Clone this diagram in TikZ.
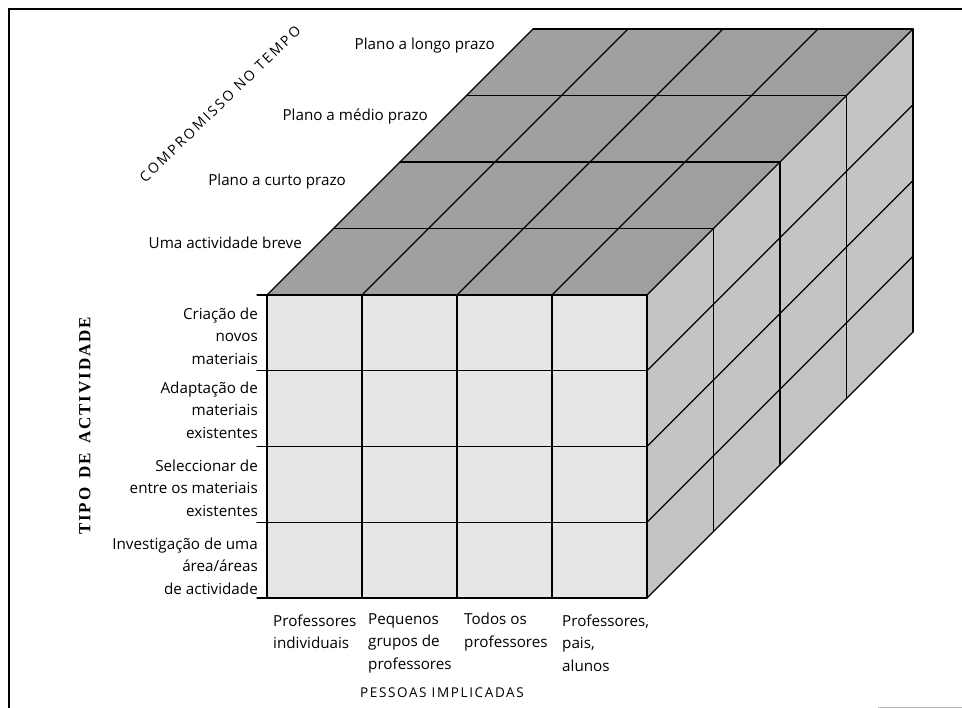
\documentclass[tikz,border=0pt]{standalone}
\usepackage{fontspec}
\setmainfont{Open Sans}
\newfontfamily\wideaxisfont{Open Sans}[LetterSpace=16]
\newfontfamily\axisfont{Open Sans}[LetterSpace=12]
\newfontfamily\headfont{Liberation Serif}[LetterSpace=11]
\definecolor{topgray}{HTML}{A0A0A0}
\definecolor{sidegray}{HTML}{C4C4C4}
\definecolor{frontgray}{HTML}{E6E6E6}
\begin{document}
\begin{tikzpicture}[x=1pt,y=-1pt,
  edge/.style={line width=1.1pt,black,line cap=round},
  lbl/.style={font=\fontsize{15.2}{22.5}\selectfont,inner sep=0pt},
  rowlbl/.style={lbl,align=right,anchor=east},
  collbl/.style={lbl,align=left,anchor=west},
  depthlbl/.style={lbl,anchor=mid east},
  axislbl/.style={inner sep=0pt}]
\useasboundingbox (0,0) rectangle (962,708);

% page frame
\draw[line width=2pt] (8.5,708) -- (8.5,9) -- (962,9);
\draw[gray!55,line width=0.8pt] (878,707) -- (962,707);

% corners of the block
\coordinate (FTL) at (267,295);
\coordinate (FTR) at (647,295);
\coordinate (FBL) at (267,598);
\coordinate (FBR) at (647,598);
\coordinate (BTL) at (533,29);
\coordinate (BTR) at (913,29);
\coordinate (BBR) at (913,332);

% faces
\fill[topgray] (FTL) -- (FTR) -- (BTR) -- (BTL) -- cycle;
\fill[sidegray] (FTR) -- (BTR) -- (BBR) -- (FBR) -- cycle;
\fill[frontgray] (FTL) rectangle (FBR);

% front grid
\foreach \i in {0,...,4}
  \draw[edge] (267+95*\i,295) -- (267+95*\i,598);
\foreach \j in {0,...,4}
  \draw[edge] (257,295+75.75*\j) -- (647,295+75.75*\j);

% top grid
\foreach \k in {1,...,4}
  \draw[edge] (267+66.5*\k,295-66.5*\k) -- (647+66.5*\k,295-66.5*\k);
\foreach \i in {0,...,4}
  \draw[edge] (267+95*\i,295) -- (533+95*\i,29);

% side grid
\foreach \k in {1,...,4}
  \draw[edge] (647+66.5*\k,295-66.5*\k) -- (647+66.5*\k,598-66.5*\k);
\foreach \j in {1,...,4}
  \draw[edge] (647,295+75.75*\j) -- (913,29+75.75*\j);

% time commitment labels
\node[depthlbl] (t1) at (302,246) {Uma actividade breve};
\node[depthlbl] (t2) at (346,183) {Plano a curto prazo};
\node[depthlbl] (t3) at (428,118) {Plano a médio prazo};
\node[depthlbl] (t4) at (495,47) {Plano a longo prazo};
\node[axislbl,font=\wideaxisfont\fontsize{14}{16}\selectfont,rotate=44] (tempo) at (220,104) {COMPROMISSO NO TEMPO};

% activity labels
\node[rowlbl] (a1) at (258,336) {Criação de\\novos\\materiais};
\node[rowlbl] (a2) at (258,410) {Adaptação de\\materiais\\existentes};
\node[rowlbl] (a3) at (258,488) {Seleccionar de\\entre os materiais\\existentes};
\node[rowlbl] (a4) at (258,566) {Investigação de uma\\área/áreas\\de actividade};
\node[font=\headfont\bfseries\fontsize{17}{19}\selectfont,rotate=90,inner sep=0pt] (tipo) at (85,426) {TIPO\hspace{0.55em}DE\hspace{0.55em}ACTIVIDADE};

% people labels
\node[collbl] (p1) at (273,632) {Professores\\individuais};
\node[collbl] (p2) at (368,643) {Pequenos\\grupos de\\professores};
\node[collbl] (p3) at (464,632) {Todos os\\professores};
\node[collbl] (p4) at (562,643) {Professores,\\pais,\\alunos};
\node[axislbl,font=\axisfont\fontsize{13.5}{15}\selectfont] (pessoas) at (442,693) {PESSOAS IMPLICADAS};
\end{tikzpicture}
\end{document}
